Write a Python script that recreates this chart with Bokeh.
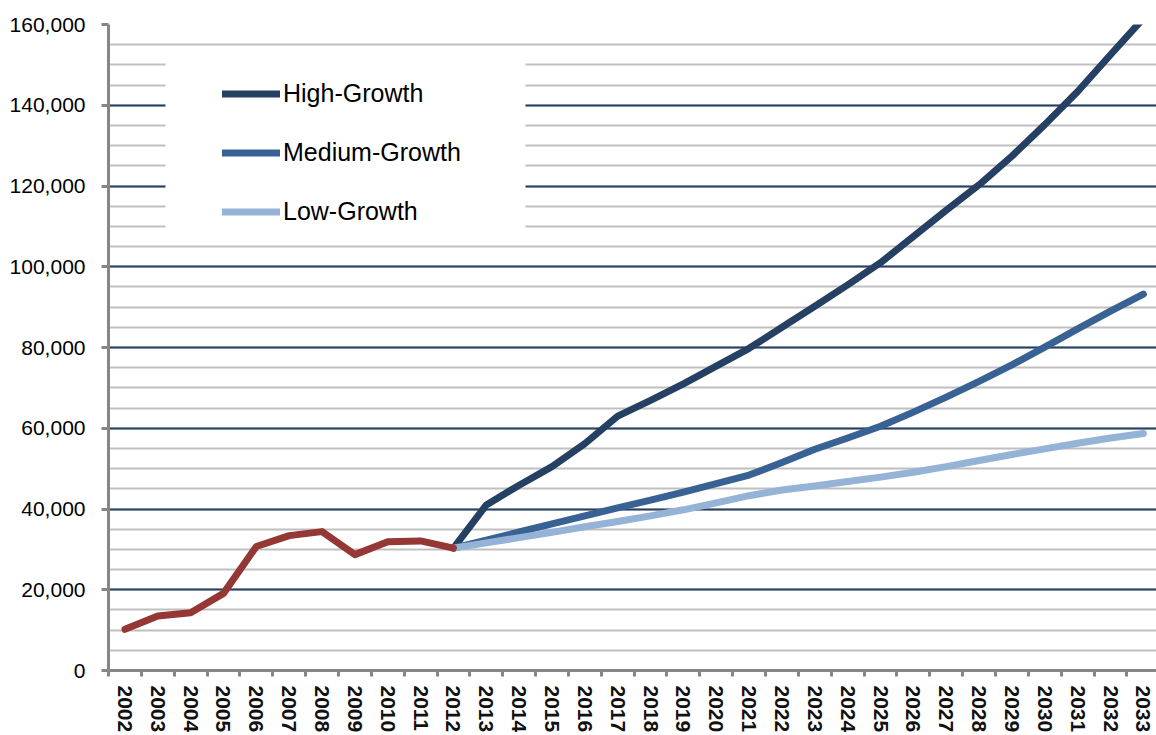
from bokeh.plotting import figure
from bokeh.models import (Range1d, FixedTicker, SingleIntervalTicker, NumeralTickFormatter,
                          Legend, LegendItem, BoxAnnotation)
from bokeh.embed import file_html
from bokeh.resources import INLINE

# ---- data ----
years_all = [2002, 2003, 2004, 2005, 2006, 2007, 2008, 2009, 2010, 2011, 2012,
             2013, 2014, 2015, 2016, 2017, 2018, 2019, 2020, 2021, 2022, 2023,
             2024, 2025, 2026, 2027, 2028, 2029, 2030, 2031, 2032, 2033]
hist_years = [2002, 2003, 2004, 2005, 2006, 2007, 2008, 2009, 2010, 2011, 2012]
hist_values = [10200, 13500, 14300, 19100, 30700, 33400, 34400, 28700, 31900, 32100, 30300]

proj_years = [2012, 2013, 2014, 2015, 2016, 2017, 2018, 2019, 2020, 2021, 2022,
              2023, 2024, 2025, 2026, 2027, 2028, 2029, 2030, 2031, 2032, 2033]
high_growth = [30300, 41000, 45900, 50500, 56200, 63000, 66900, 71000, 75400, 79800, 85000,
               90200, 95500, 101000, 107500, 114000, 120300, 127400, 135200, 143400, 152500, 161500]
medium_growth = [30300, 32300, 34300, 36300, 38300, 40300, 42200, 44200, 46300, 48400, 51500,
                 54800, 57600, 60500, 64000, 67700, 71600, 75700, 80100, 84600, 89000, 93200]
low_growth = [30300, 31600, 32900, 34200, 35600, 36900, 38300, 39800, 41500, 43300, 44700,
              45700, 46800, 47900, 49100, 50500, 52000, 53500, 54900, 56300, 57600, 58700]
series_labels = ["High-Growth", "Medium-Growth", "Low-Growth"]

# ---- styles ----
C_HIGH = "#254062"
C_MED = "#386294"
C_LOW = "#95B3D7"
C_HIST = "#953735"
C_AXIS = "#868686"
C_MINOR = "#BFBFBF"
FONT = "Liberation Sans"
W, H = 1156, 735

p = figure(width=W, height=H, output_backend="svg", toolbar_location=None,
           x_range=Range1d(2001.5, 2033.4), y_range=Range1d(0, 160000),
           min_border_left=108, min_border_right=0, min_border_top=24, min_border_bottom=62)
p.outline_line_color = None
p.background_fill_color = "white"
p.border_fill_color = "white"

# y axis
yticker = SingleIntervalTicker(interval=20000, num_minor_ticks=4)
p.yaxis.ticker = yticker
p.ygrid.ticker = yticker
p.yaxis.formatter = NumeralTickFormatter(format="0,0")
p.yaxis.axis_line_color = C_AXIS
p.yaxis.axis_line_width = 3
p.yaxis.major_tick_line_color = C_AXIS
p.yaxis.major_tick_line_width = 3
p.yaxis.major_tick_out = 7
p.yaxis.major_tick_in = 0
p.yaxis.minor_tick_line_color = None
p.yaxis.major_label_standoff = 16
p.yaxis.major_label_text_font = FONT
p.yaxis.major_label_text_font_size = "21px"
p.yaxis.major_label_text_color = "black"

# x axis
p.xaxis.ticker = FixedTicker(ticks=years_all, minor_ticks=[y - 0.5 for y in years_all] + [years_all[-1] + 0.5])
p.xaxis.axis_line_color = C_AXIS
p.xaxis.axis_line_width = 3
p.xaxis.major_tick_line_color = None
p.xaxis.major_tick_out = 6
p.xaxis.major_tick_in = 0
p.xaxis.minor_tick_line_color = C_AXIS
p.xaxis.minor_tick_line_width = 3
p.xaxis.minor_tick_out = 6
p.xaxis.minor_tick_in = 0
p.xaxis.major_label_orientation = "vertical"
p.xaxis.major_label_standoff = 9
p.xaxis.major_label_text_font = FONT
p.xaxis.major_label_text_font_size = "21px"
p.xaxis.major_label_text_font_style = "bold"
p.xaxis.major_label_text_color = "#111111"

# grid
p.xgrid.visible = False
p.ygrid.grid_line_color = C_HIGH
p.ygrid.grid_line_width = 2
p.ygrid.minor_grid_line_color = C_MINOR
p.ygrid.minor_grid_line_width = 2

lw = 7
r_high = p.line(proj_years, high_growth, line_color=C_HIGH, line_width=lw, line_cap="round", line_join="round")
r_med = p.line(proj_years, medium_growth, line_color=C_MED, line_width=lw, line_cap="round", line_join="round")
r_low = p.line(proj_years, low_growth, line_color=C_LOW, line_width=lw, line_cap="round", line_join="round")
r_hist = p.line(hist_years, hist_values, line_color=C_HIST, line_width=lw, line_cap="round", line_join="round")

box = BoxAnnotation(left=165, right=525, top=47, bottom=235,
                    left_units="canvas", right_units="canvas", top_units="canvas", bottom_units="canvas",
                    fill_color="white", fill_alpha=1.0, line_color=None)
p.add_layout(box)

legend = Legend(items=[LegendItem(label=series_labels[0], renderers=[r_high]),
                       LegendItem(label=series_labels[1], renderers=[r_med]),
                       LegendItem(label=series_labels[2], renderers=[r_low])],
                location=(114, 444), padding=0, spacing=30, glyph_width=58, glyph_height=29,
                label_height=29, label_standoff=3, label_text_font=FONT,
                label_text_font_size="25px", label_text_color="black",
                background_fill_alpha=0, border_line_alpha=0)
p.add_layout(legend)

open("out.html", "w").write(file_html(p, INLINE))
